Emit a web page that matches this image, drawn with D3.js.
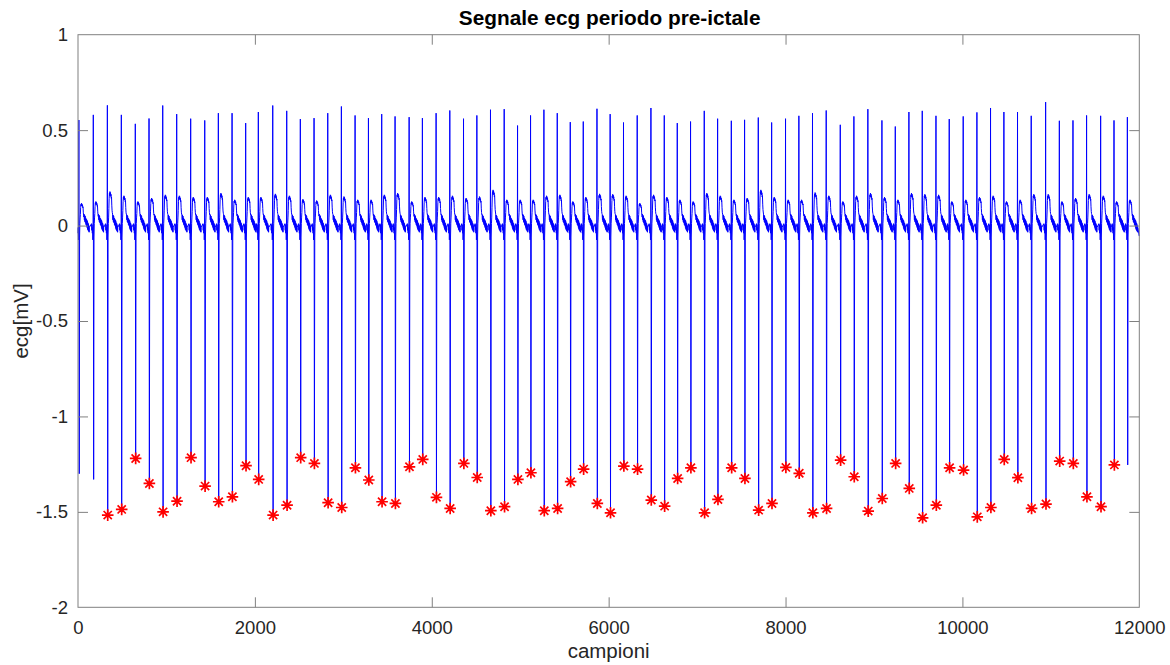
<!DOCTYPE html>
<html>
<head>
<meta charset="utf-8">
<script src="https://cdn.jsdelivr.net/npm/d3@7"></script>
<style>
  html, body { margin: 0; padding: 0; background: #fff; }
  svg { display: block; font-family: "Liberation Sans", Arial, Helvetica, sans-serif; }
</style>
</head>
<body>
<svg id="chart" width="1170" height="665"></svg>
<script>
// Sample index of each R wave (beat position)
const beatSample = [10,173,332,490,648,803,958,1116,1274,1433,1587,1742,1896,
  2039,2202,2360,2514,2669,2824,2978,3133,3284,3434,3585,3744,3894,
  4049,4204,4359,4510,4664,4819,4970,5117,5268,5419,5566,5713,5868,
  6017,6168,6323,6478,6629,6776,6926,7081,7232,7387,7537,7692,7843,
  8000,8151,8305,8460,8619,8773,8931,9090,9241,9395,9546,9701,9851,
  10009,10164,10318,10469,10623,10778,10941,11096,11250,11404,11563,11714,11865];

// R peak amplitude per beat [mV]
const rPeak = [0.553,0.58,0.63,0.58,0.533,0.561,0.629,0.584,0.56,0.551,0.589,0.589,0.537,
  0.595,0.629,0.601,0.558,0.563,0.589,0.624,0.577,0.563,0.584,0.572,0.568,0.563,
  0.589,0.603,0.56,0.577,0.607,0.61,0.524,0.577,0.607,0.589,0.542,0.545,0.612,
  0.584,0.54,0.577,0.616,0.577,0.537,0.545,0.601,0.56,0.549,0.554,0.566,0.54,
  0.56,0.575,0.589,0.603,0.528,0.572,0.61,0.551,0.519,0.595,0.601,0.575,0.558,
  0.572,0.593,0.616,0.595,0.595,0.575,0.647,0.549,0.551,0.577,0.575,0.551,0.568];

// S trough amplitude per beat [mV]
const sTrough = [-1.30,-1.33,-1.517,-1.487,-1.22,-1.351,-1.50,-1.444,-1.216,-1.365,-1.447,-1.421,-1.258,
  -1.33,-1.517,-1.465,-1.216,-1.246,-1.452,-1.477,-1.269,-1.333,-1.447,-1.456,-1.264,-1.225,
  -1.424,-1.482,-1.246,-1.32,-1.494,-1.473,-1.33,-1.295,-1.494,-1.482,-1.342,-1.276,-1.456,
  -1.505,-1.26,-1.276,-1.438,-1.47,-1.325,-1.269,-1.505,-1.435,-1.269,-1.325,-1.491,-1.456,
  -1.267,-1.298,-1.505,-1.482,-1.229,-1.316,-1.496,-1.43,-1.246,-1.377,-1.531,-1.465,-1.269,
  -1.281,-1.526,-1.477,-1.225,-1.321,-1.482,-1.459,-1.234,-1.246,-1.421,-1.473,-1.254,-1.254];

// T wave amplitude per beat [mV]
const tWave = [0.117,0.126,0.178,0.156,0.126,0.144,0.161,0.156,0.149,0.149,0.17,0.135,0.149,
  0.149,0.166,0.156,0.138,0.131,0.161,0.152,0.135,0.135,0.161,0.17,0.126,0.149,
  0.149,0.156,0.144,0.152,0.187,0.135,0.135,0.135,0.156,0.161,0.126,0.149,0.166,
  0.164,0.156,0.117,0.161,0.149,0.135,0.126,0.17,0.156,0.135,0.144,0.187,0.149,
  0.135,0.135,0.173,0.156,0.126,0.156,0.17,0.149,0.135,0.17,0.164,0.161,0.126,
  0.135,0.149,0.156,0.126,0.135,0.164,0.164,0.126,0.144,0.164,0.156,0.126,0.135];

// Beats whose minimum was detected (first and last index, inclusive)
const detectedFirst = 2, detectedLast = 76;

// Shape of one heartbeat around its R wave: [sample offset, kind, value]
// kind "v" = absolute mV, "R"/"S" = beat's peak/trough, "T" = fraction of T amplitude
const beatShape = [
  [-20,"v",0.01],[-17,"v",-0.025],[-14,"v",0.005],[-11,"v",-0.04],[-8,"v",-0.01],[-5,"v",-0.075],[-2,"v",-0.02],
  [0,"R",1],[4,"S",1],[8,"v",-0.06],[11,"v",0.01],[14,"v",0.04],
  [17,"T",0.5],[20,"T",0.8],[23,"T",0.95],[26,"T",0.88],[29,"T",1.0],[32,"T",0.9],[35,"T",0.97],
  [38,"T",0.86],[41,"T",0.92],[44,"T",0.8],[47,"T",0.84],[50,"T",0.6],[53,"T",0.45],[56,"T",0.38],
  [59,"v",0.06],[62,"v",0.03],[65,"v",0.055],[68,"v",0.02],[71,"v",0.05],[74,"v",0.015],[77,"v",0.04],
  [80,"v",0.005],[83,"v",0.035],[86,"v",0.0],[89,"v",0.03],[92,"v",-0.01],[95,"v",0.025],[98,"v",-0.02],
  [101,"v",0.015],[104,"v",-0.025],[107,"v",0.01],[110,"v",-0.03],[113,"v",0.0],[116,"v",-0.035],[118,"v",-0.01]
];

const xTicks = [0,2000,4000,6000,8000,10000,12000];
const yTicks = [-2,-1.5,-1,-0.5,0,0.5,1];
const nSamples = 12000;
const startValue = -0.04, endValue = -0.055;

// Build the signal samples
const signal = [];
beatSample.forEach((b, i) => {
  beatShape.forEach(([off, kind, v]) => {
    const s = b + off;
    if (s < 0 || s > nSamples - 1) return;
    let val;
    if (kind === "R") val = rPeak[i];
    else if (kind === "S") val = sTrough[i];
    else if (kind === "T") val = v * tWave[i];
    else val = v;
    signal.push([s, val]);
  });
});
signal.unshift([0, startValue]);
signal.push([nSamples - 1, endValue]);
signal.sort((a, b) => a[0] - b[0]);

const markers = beatSample.map((b, i) => ({s: b + 4, v: sTrough[i], i}))
  .filter(d => d.i >= detectedFirst && d.i <= detectedLast);

// Layout
const svg = d3.select("#chart");
const L = 78, R = 1139.3, T = 34.7, B = 607.3;
const x = d3.scaleLinear().domain([0, 12000]).range([L, R]);
const y = d3.scaleLinear().domain([-2, 1]).range([B, T]);

svg.append("rect").attr("width", 1170).attr("height", 665).attr("fill", "#fff");

const axisColor = "#808080", textColor = "#262626";

// Signal
const line = d3.line().x(d => x(d[0])).y(d => y(d[1]));
svg.append("path").datum(signal)
  .attr("d", line).attr("fill", "none")
  .attr("stroke", "#0000ff").attr("stroke-width", 1)
  .attr("stroke-linejoin", "round");

// Detected minima as asterisks
const r = 5.8, d45 = r * Math.SQRT1_2;
const star = `M${-r},0H${r}M0,${-r}V${r}M${-d45},${-d45}L${d45},${d45}M${-d45},${d45}L${d45},${-d45}`;
svg.append("g").selectAll("path").data(markers).join("path")
  .attr("transform", d => `translate(${x(d.s)},${y(d.v)})`)
  .attr("d", star).attr("fill", "none")
  .attr("stroke", "#ff0000").attr("stroke-width", 1.7);

// Axes with inward ticks on all four sides
const tickLen = 10;
const gx = svg.append("g").attr("transform", `translate(0,${B})`)
  .call(d3.axisBottom(x).tickValues(xTicks).tickSizeInner(-tickLen).tickSizeOuter(0).tickPadding(14).tickFormat(d3.format("d")));
const gxTop = svg.append("g").attr("transform", `translate(0,${T})`)
  .call(d3.axisTop(x).tickValues(xTicks).tickSizeInner(-tickLen).tickSizeOuter(0).tickFormat(""));
const gy = svg.append("g").attr("transform", `translate(${L},0)`)
  .call(d3.axisLeft(y).tickValues(yTicks).tickSizeInner(-tickLen).tickSizeOuter(0).tickPadding(10).tickFormat(d => String(d)));
const gyR = svg.append("g").attr("transform", `translate(${R},0)`)
  .call(d3.axisRight(y).tickValues(yTicks).tickSizeInner(-tickLen).tickSizeOuter(0).tickFormat(""));

[gx, gxTop, gy, gyR].forEach(g => {
  g.select(".domain").remove();
  g.selectAll(".tick line").attr("stroke", axisColor).attr("stroke-width", 1);
  g.selectAll(".tick text").attr("fill", textColor).style("font-size", "18.5px")
    .style("font-family", '"Liberation Sans", Arial, Helvetica, sans-serif');
});
// ticks at the box edges coincide with the frame
gx.selectAll(".tick line").filter(d => d === 0 || d === 12000).remove();
gxTop.selectAll(".tick line").filter(d => d === 0 || d === 12000).remove();
gy.selectAll(".tick line").filter(d => d === -2 || d === 1).remove();
gyR.selectAll(".tick line").filter(d => d === -2 || d === 1).remove();

// Box
svg.append("rect").attr("x", L).attr("y", T).attr("width", R - L).attr("height", B - T)
  .attr("fill", "none").attr("stroke", axisColor).attr("stroke-width", 1);

// Labels
svg.append("text").attr("x", (L + R) / 2 + 1).attr("y", 25)
  .attr("text-anchor", "middle").attr("fill", "#000")
  .style("font-size", "20.8px").style("font-weight", "bold")
  .text("Segnale ecg periodo pre-ictale");
svg.append("text").attr("x", (L + R) / 2).attr("y", 658)
  .attr("text-anchor", "middle").attr("fill", textColor)
  .style("font-size", "20.5px").text("campioni");
svg.append("text").attr("transform", `translate(28,${(T + B) / 2}) rotate(-90)`)
  .attr("text-anchor", "middle").attr("fill", textColor)
  .style("font-size", "20.5px").text("ecg[mV]");
</script>
</body>
</html>
